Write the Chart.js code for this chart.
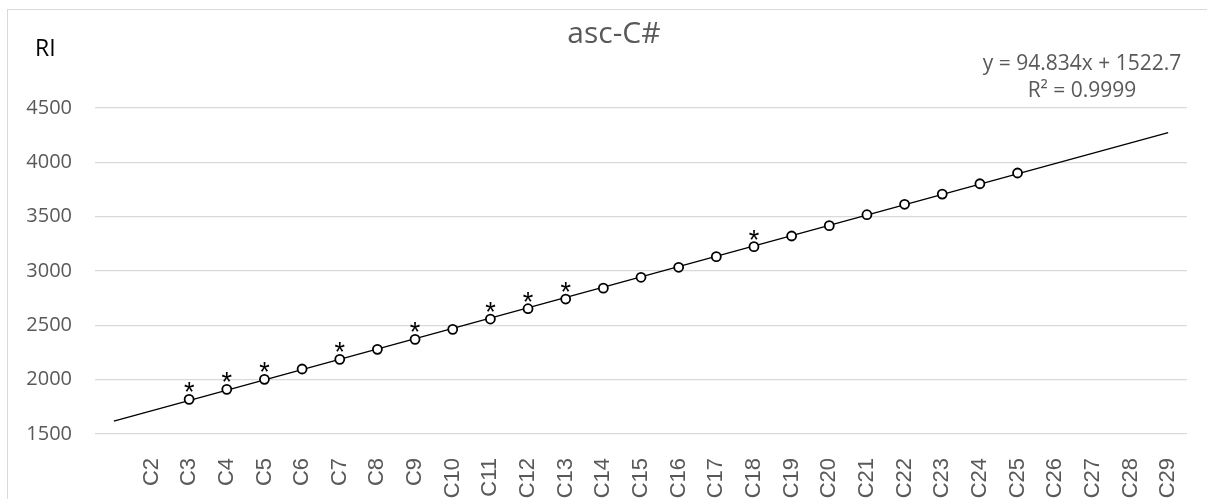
<!DOCTYPE html>
<html>
<head>
<meta charset="utf-8">
<script src="https://cdn.jsdelivr.net/npm/chart.js@4/dist/chart.umd.min.js"></script>
<style>
  html, body { margin: 0; padding: 0; background: #fff; overflow: hidden; }
  #wrap { position: relative; width: 1207px; height: 499px; }
  #frame { position: absolute; left: 7px; top: 9px; width: 1300px; height: 600px; border: 1px solid #d9d9d9; }
  canvas { position: absolute; left: 0; top: 0; }
</style>
</head>
<body>
<div id="wrap">
  <div id="frame"></div>
  <canvas id="riChart" width="1207" height="499"></canvas>
</div>
<script>
'use strict';

// carbon numbers of the measured compounds and their retention indices
var carbons = [3, 4, 5, 6, 7, 8, 9, 10, 11, 12, 13, 14, 15, 16, 17, 18, 19, 20, 21, 22, 23, 24, 25];
var riValues = [1819, 1911, 2003, 2098, 2187, 2279, 2371, 2463, 2558, 2653, 2742, 2842, 2942, 3034, 3132, 3224, 3322, 3417, 3518, 3614, 3708, 3803, 3902];

// compounds flagged with an asterisk
var starCarbons = [3, 4, 5, 7, 9, 11, 12, 13, 18];

// axis labels C2 .. C29
var xTickValues = [2, 3, 4, 5, 6, 7, 8, 9, 10, 11, 12, 13, 14, 15, 16, 17, 18, 19, 20, 21, 22, 23, 24, 25, 26, 27, 28, 29];
var yTickValues = [1500, 2000, 2500, 3000, 3500, 4000, 4500];

// linear fit
var slope = 94.834;
var intercept = 1522.7;
var rSquared = '0.9999';
var trendFrom = 1;
var trendTo = 29;

var points = [];
for (var i = 0; i < carbons.length; i++) {
	points.push({x: carbons[i], y: riValues[i]});
}
var trendPoints = [
	{x: trendFrom, y: slope * trendFrom + intercept},
	{x: trendTo, y: slope * trendTo + intercept}
];

var labelsPlugin = {
	id: 'riLabels',
	afterDatasetsDraw: function(chart) {
		var ctx = chart.ctx;
		var xs = chart.scales.x;
		var ys = chart.scales.y;
		ctx.save();

		// asterisks above flagged points
		ctx.fillStyle = '#000';
		ctx.font = '27px "Liberation Sans"';
		ctx.textAlign = 'center';
		ctx.textBaseline = 'alphabetic';
		for (var i = 0; i < starCarbons.length; i++) {
			var idx = carbons.indexOf(starCarbons[i]);
			var px = xs.getPixelForValue(starCarbons[i]);
			var py = ys.getPixelForValue(riValues[idx]);
			ctx.fillText('*', px, py + 2);
		}

		// title
		ctx.fillStyle = '#595959';
		ctx.font = '30px "Open Sans"';
		ctx.fillText('asc-C#', 614, 43);

		// y axis title
		ctx.fillStyle = '#000';
		ctx.font = '23px "Open Sans"';
		ctx.textAlign = 'left';
		ctx.fillText('RI', 35, 56);

		// trendline equation
		ctx.fillStyle = '#595959';
		ctx.font = '21px "Open Sans"';
		ctx.textAlign = 'center';
		ctx.fillText('y = ' + slope + 'x + ' + intercept, 1082, 70);
		ctx.fillText('R\u00b2 = ' + rSquared, 1082, 97);

		ctx.restore();
	}
};

new Chart(document.getElementById('riChart'), {
	type: 'scatter',
	data: {
		datasets: [
			{
				label: 'RI',
				data: points,
				showLine: false,
				pointRadius: 4.5,
				pointBorderWidth: 1.8,
				pointBorderColor: '#000',
				pointBackgroundColor: '#fff',
				order: 1
			},
			{
				label: 'trend',
				data: trendPoints,
				showLine: true,
				borderColor: '#000',
				borderWidth: 1.3,
				pointRadius: 0,
				order: 2
			}
		]
	},
	options: {
		responsive: false,
		devicePixelRatio: 1,
		animation: false,
		layout: {
			padding: {top: 108, right: 20, left: 0, bottom: 0}
		},
		plugins: {
			legend: {display: false},
			tooltip: {enabled: false}
		},
		scales: {
			x: {
				type: 'linear',
				min: 0.5,
				max: 29.5,
				afterBuildTicks: function(scale) {
					scale.ticks = xTickValues.map(function(v) { return {value: v}; });
				},
				afterFit: function(scale) {
					scale.height = 65;
					// labels sit well inside the axis, no extra side room needed
					scale.paddingLeft = 0;
					scale.paddingRight = 0;
				},
				grid: {display: false},
				border: {display: false},
				ticks: {
					autoSkip: false,
					maxRotation: 90,
					minRotation: 90,
					padding: 16,
					color: '#595959',
					font: {family: 'Liberation Sans', size: 22},
					callback: function(v) { return 'C' + v; }
				}
			},
			y: {
				min: 1500,
				max: 4500,
				afterBuildTicks: function(scale) {
					scale.ticks = yTickValues.map(function(v) { return {value: v}; });
				},
				afterFit: function(scale) {
					scale.width = 95;
				},
				grid: {color: '#d9d9d9', lineWidth: 1.3, drawTicks: false},
				border: {display: false},
				ticks: {
					padding: 23,
					color: '#595959',
					font: {family: 'Open Sans', size: 20},
					callback: function(v) { return String(v); }
				}
			}
		}
	},
	plugins: [labelsPlugin]
});
</script>
</body>
</html>
